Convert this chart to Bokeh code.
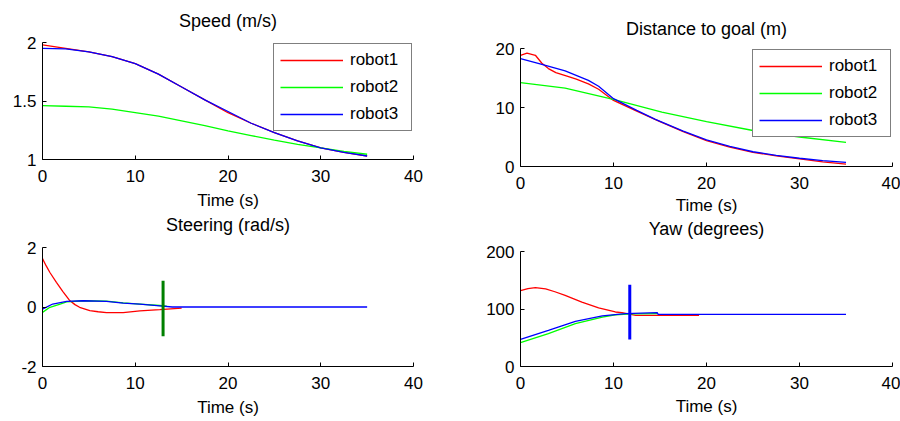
from bokeh.plotting import figure
from bokeh.layouts import row, column
from bokeh.models import Range1d, FixedTicker, CustomJSTickFormatter, Legend, LegendItem, Title
from bokeh.embed import file_html
from bokeh.resources import INLINE

FONT = "Liberation Sans"
NAMES = ["robot1", "robot2", "robot3"]
COLORS = ["#ff0000", "#00ff00", "#0000ff"]
X_TICKS = [0, 10, 20, 30, 40]
X_LABEL = "Time (s)"
TITLES = ["Speed (m/s)", "Distance to goal (m)", "Steering (rad/s)", "Yaw (degrees)"]

# ---- Speed (m/s) ----
speed_t = [0, 2.5, 5, 7.5, 10, 12.5, 15, 17.5, 20, 22.5, 25, 27.5, 30, 32.5, 35]
speed_r1 = [1.98, 1.95, 1.92, 1.88, 1.82, 1.73, 1.62, 1.51, 1.40, 1.31, 1.23, 1.16, 1.10, 1.06, 1.03]
speed_r2 = [1.46, 1.455, 1.45, 1.43, 1.40, 1.37, 1.33, 1.29, 1.245, 1.205, 1.165, 1.13, 1.10, 1.07, 1.045]
speed_r3 = [1.95, 1.945, 1.92, 1.88, 1.82, 1.73, 1.62, 1.51, 1.41, 1.31, 1.23, 1.16, 1.10, 1.06, 1.03]
speed_ticks = [1, 1.5, 2]

# ---- Distance to goal (m) ----
dist_t1 = [0, 0.7, 1.6, 2.3, 3, 3.8, 5, 6, 7.3, 8.4, 10, 12.5, 15, 17.5, 20, 22.5, 25, 27.5, 30, 32.5, 35]
dist_r1 = [18.85, 19.2, 18.85, 17.5, 16.6, 15.9, 15.3, 14.8, 14.0, 13.1, 11.2, 9.4, 7.6, 5.9, 4.4, 3.3, 2.4, 1.8, 1.3, 0.8, 0.4]
dist_t2 = [0, 4.8, 10.2, 15.2, 20, 25, 30, 35]
dist_r2 = [14.2, 13.3, 11.3, 9.2, 7.6, 6.1, 5.0, 4.1]
dist_t3 = [0, 2.3, 4.8, 7.3, 8.4, 10, 11, 12.5, 14.5, 17.5, 20, 22.5, 25, 27.5, 30, 32.5, 35]
dist_r3 = [18.3, 17.3, 16.2, 14.6, 13.6, 11.5, 10.7, 9.5, 8.0, 6.0, 4.5, 3.4, 2.5, 1.9, 1.4, 1.0, 0.7]
dist_ticks = [0, 10, 20]

# ---- Steering (rad/s) ----
steer_t1 = [0, 0.4, 0.8, 1.5, 2.2, 2.9, 3.5, 4, 5.1, 6, 6.9, 8.7, 10.5, 12.65, 15]
steer_r1 = [1.63, 1.38, 1.16, 0.83, 0.52, 0.23, 0.08, -0.01, -0.12, -0.16, -0.19, -0.19, -0.13, -0.09, -0.04]
steer_t2 = [0, 0.8, 1.9, 2.6, 4.4, 6.9, 8.7, 10.5, 12.65, 13.4]
steer_r2 = [-0.18, -0.01, 0.10, 0.17, 0.21, 0.20, 0.14, 0.10, 0.05, 0.03]
steer_t3 = [0, 1.1, 2.6, 4.4, 6.9, 8.7, 10.5, 12.65, 14, 35]
steer_r3 = [-0.07, 0.10, 0.19, 0.21, 0.19, 0.13, 0.10, 0.04, 0.0, 0.0]
steer_mark_t = [13.0, 13.0]
steer_mark_y = [0.88, -0.98]
steer_ticks = [-2, 0, 2]

# ---- Yaw (degrees) ----
yaw_t1 = [0, 0.8, 1.6, 2.7, 3.7, 4.8, 6.6, 8.4, 10.2, 10.9, 12.4, 19.2]
yaw_r1 = [132, 135.5, 137, 135, 130, 123.6, 112, 102, 94.8, 93.6, 89, 89]
yaw_t2 = [0, 3, 5.9, 8.8, 10.2, 12, 14.7]
yaw_r2 = [41.6, 57, 74.5, 86, 90, 91.6, 92]
yaw_t3 = [0, 3, 5.9, 8.8, 11.3, 14.7, 14.8, 35]
yaw_r3 = [47.3, 63, 78.6, 88, 92, 93.6, 90.7, 90.7]
yaw_mark_t = [11.75, 11.75]
yaw_mark_y = [142, 47]
yaw_ticks = [0, 100, 200]

LW = 1.3


def make_title(text, valign, standoff):
    return Title(text=text, text_font=FONT, text_font_size="18px", text_font_style="normal",
                 align="center", vertical_align=valign, text_color="#000000", standoff=standoff)


def make_fig(fw, fh, left, right, top, yr, yticks, lstand):
    p = figure(frame_width=fw, frame_height=fh, output_backend="svg", toolbar_location=None,
               x_range=Range1d(0, 40), y_range=Range1d(yr[0], yr[1]),
               min_border_left=left, min_border_right=right,
               min_border_top=top, min_border_bottom=0)
    p.outline_line_color = None
    p.xgrid.visible = False
    p.ygrid.visible = False
    p.xaxis.ticker = FixedTicker(ticks=X_TICKS)
    p.yaxis.ticker = FixedTicker(ticks=yticks)
    for ax in p.axis:
        ax.formatter = CustomJSTickFormatter(code="return String(tick);")
        ax.axis_line_color = "#000000"
        ax.axis_line_width = 1
        ax.major_tick_line_color = "#000000"
        ax.major_tick_in = 4
        ax.major_tick_out = 0
        ax.minor_tick_line_color = None
        ax.major_label_text_font = FONT
        ax.major_label_text_font_size = "17px"
        ax.major_label_text_color = "#000000"
    p.xaxis.major_label_standoff = 10
    p.yaxis.major_label_standoff = 6
    p.xaxis.axis_label = X_LABEL
    p.xaxis.axis_label_text_font = FONT
    p.xaxis.axis_label_text_font_size = "17px"
    p.xaxis.axis_label_text_font_style = "normal"
    p.xaxis.axis_label_text_color = "#000000"
    p.xaxis.axis_label_standoff = lstand
    return p


def add_legend(p, renderers):
    items = [LegendItem(label=n, renderers=[r]) for n, r in zip(NAMES, renderers)]
    lg = Legend(items=items, location="top_right")
    lg.label_text_font = FONT
    lg.label_text_font_size = "17px"
    lg.label_text_color = "#000000"
    lg.border_line_color = "#000000"
    lg.border_line_width = 1
    lg.background_fill_color = "#ffffff"
    lg.background_fill_alpha = 1.0
    lg.glyph_width = 63
    lg.glyph_height = 20
    lg.label_height = 20
    lg.label_width = 55
    lg.label_standoff = 7
    lg.spacing = 7
    lg.padding = 6
    lg.margin = 1
    p.add_layout(lg)


# Speed (top-left); its lower border also carries the title of the panel below
p1 = make_fig(371, 117, 42, 37, 42, (1, 2), speed_ticks, 6)
p1.add_layout(make_title(TITLES[0], "top", 19), "above")
rs = []
for ys, c in zip([speed_r1, speed_r2, speed_r3], COLORS):
    rs.append(p1.line(speed_t, ys, line_color=c, line_width=LW))
add_legend(p1, rs)
p1.add_layout(make_title(TITLES[2], "top", 4), "below")

# Distance (top-right)
p2 = make_fig(372, 118, 70, 8, 48, (0, 20), dist_ticks, 4)
p2.add_layout(make_title(TITLES[1], "bottom", 20), "above")
rs = []
for ts, ys, c in zip([dist_t1, dist_t2, dist_t3], [dist_r1, dist_r2, dist_r3], COLORS):
    rs.append(p2.line(ts, ys, line_color=c, line_width=LW))
add_legend(p2, rs)
p2.add_layout(make_title(TITLES[3], "top", 3), "below")

# Steering (bottom-left)
p3 = make_fig(371, 119, 42, 37, 9, (-2, 2), steer_ticks, 6)
p3.line(steer_t1, steer_r1, line_color=COLORS[0], line_width=LW)
p3.line(steer_t2, steer_r2, line_color=COLORS[1], line_width=LW)
p3.line(steer_t3, steer_r3, line_color=COLORS[2], line_width=LW)
p3.line(steer_mark_t, steer_mark_y, line_color="#008000", line_width=3)

# Yaw (bottom-right)
p4 = make_fig(372, 115, 70, 8, 9, (0, 200), yaw_ticks, 5)
p4.line(yaw_t1, yaw_r1, line_color=COLORS[0], line_width=LW)
p4.line(yaw_t2, yaw_r2, line_color=COLORS[1], line_width=LW)
p4.line(yaw_t3, yaw_r3, line_color=COLORS[2], line_width=LW)
p4.line(yaw_mark_t, yaw_mark_y, line_color="#0000ff", line_width=3)

layout = row(column(p1, p3), column(p2, p4))
open("out.html", "w").write(file_html(layout, INLINE))
